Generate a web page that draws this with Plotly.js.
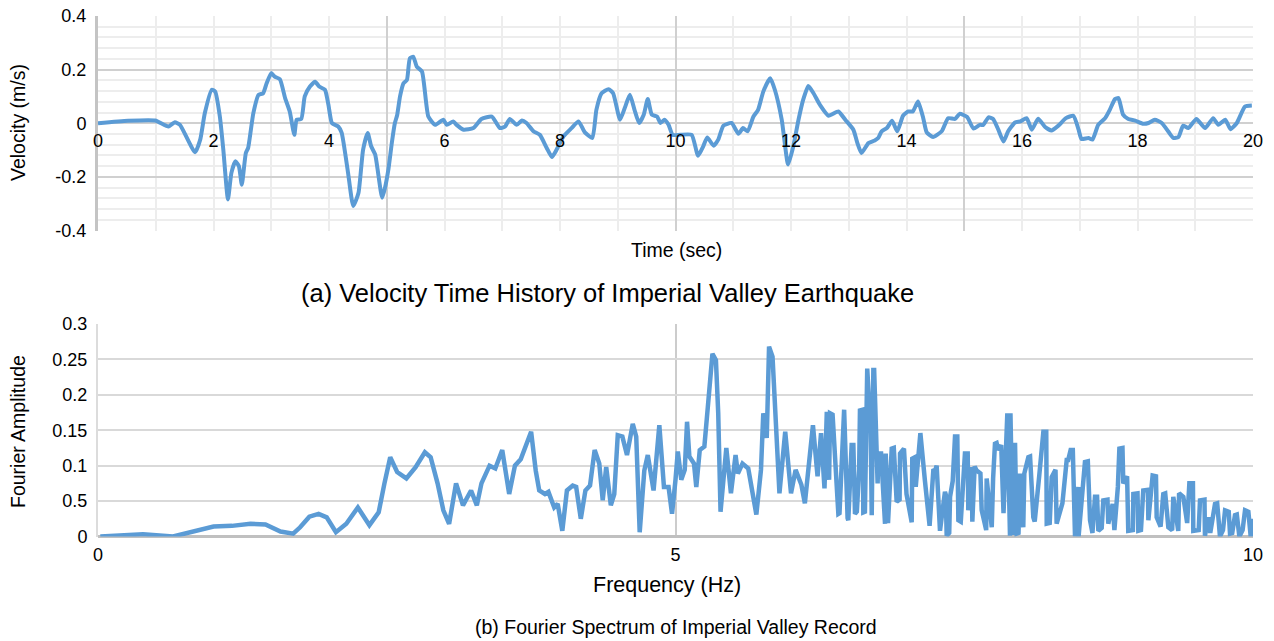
<!DOCTYPE html>
<html>
<head>
<meta charset="utf-8">
<script src="https://cdn.plot.ly/plotly-3.0.1.min.js"></script>
<style>
  html, body { margin: 0; padding: 0; background: #ffffff; }
  #chart { width: 1274px; height: 641px; }
</style>
</head>
<body>
<div id="chart"></div>
<script>
// ---- (a) Velocity time history ----
const timeSec = [0, 0.52, 0.99, 1.22, 1.33, 1.42, 1.68, 1.77, 1.85, 1.97, 2.03, 2.11, 2.17, 2.25, 2.31, 2.38, 2.44, 2.49, 2.56, 2.60,
  2.69, 2.78, 2.86, 2.92, 3.00, 3.06, 3.15, 3.24, 3.32, 3.40, 3.44, 3.52, 3.58, 3.67, 3.76, 3.83, 3.93, 3.99, 4.05, 4.16,
  4.22, 4.33, 4.42, 4.51, 4.59, 4.67, 4.73, 4.80, 4.92, 4.97, 5.03, 5.09, 5.14, 5.18, 5.23, 5.29, 5.35, 5.40, 5.46, 5.52,
  5.61, 5.72, 5.84, 5.98, 6.04, 6.15, 6.21, 6.33, 6.50, 6.64, 6.82, 6.96, 7.05, 7.13, 7.25, 7.34, 7.42, 7.54, 7.65, 7.77,
  7.86, 7.94, 8.06, 8.20, 8.32, 8.43, 8.56, 8.63, 8.72, 8.84, 8.92, 9.04, 9.13, 9.21, 9.29, 9.37, 9.45, 9.52, 9.59, 9.68,
  9.74, 9.81, 9.88, 9.95, 10.08, 10.28, 10.39, 10.48, 10.55, 10.66, 10.74, 10.83, 10.97, 11.09, 11.17, 11.25, 11.35, 11.43, 11.52, 11.64,
  11.72, 11.84, 11.95, 12.04, 12.13, 12.21, 12.30, 12.39, 12.50, 12.65, 12.82, 12.94, 13.08, 13.15, 13.22, 13.34, 13.45, 13.51, 13.57, 13.66,
  13.75, 13.84, 13.94, 14.03, 14.11, 14.20, 14.29, 14.35, 14.46, 14.61, 14.72, 14.84, 14.92, 15.05, 15.16, 15.27, 15.33, 15.42, 15.50, 15.59,
  15.68, 15.76, 15.88, 15.97, 16.08, 16.17, 16.28, 16.40, 16.51, 16.63, 16.76, 16.89, 16.98, 17.03, 17.15, 17.22, 17.32, 17.44, 17.52, 17.61,
  17.67, 17.75, 17.84, 17.96, 18.10, 18.19, 18.30, 18.42, 18.53, 18.62, 18.71, 18.79, 18.88, 19.02, 19.17, 19.31, 19.40, 19.52, 19.61, 19.72,
  19.86, 19.98];
const velocity = [0, 0.009, 0.010, -0.012, 0.004, -0.006, -0.108, -0.061, 0.038, 0.125, 0.118, 0.025, -0.099, -0.284, -0.185, -0.142, -0.160, -0.229, -0.111, -0.092,
  0.038, 0.106, 0.112, 0.149, 0.187, 0.174, 0.164, 0.094, 0.044, -0.043, 0.013, 0.016, 0.100, 0.137, 0.155, 0.137, 0.125, 0.069, 0.001, -0.012,
  -0.036, -0.185, -0.309, -0.260, -0.099, -0.036, -0.086, -0.117, -0.278, -0.240, -0.170, -0.070, 0.000, 0.030, 0.100, 0.149, 0.162, 0.242, 0.248, 0.211,
  0.193, 0.025, -0.006, 0.013, -0.006, 0.007, -0.006, -0.024, -0.018, 0.016, 0.025, -0.018, -0.012, 0.016, -0.006, 0.010, 0.001, -0.030, -0.043, -0.092,
  -0.126, -0.099, -0.049, -0.018, 0.007, -0.034, -0.055, 0.050, 0.112, 0.127, 0.112, 0.013, 0.062, 0.106, 0.050, 0.001, 0.032, 0.090, 0.032, 0.025,
  0.001, 0.013, -0.006, -0.043, -0.043, -0.043, -0.121, -0.086, -0.053, -0.084, -0.061, -0.009, 0.001, -0.039, -0.018, -0.030, 0.025, 0.050, 0.118, 0.168,
  0.125, 0.013, -0.154, -0.086, 0.013, 0.087, 0.139, 0.112, 0.069, 0.028, 0.044, 0.013, -0.024, -0.074, -0.111, -0.074, -0.064, -0.055, -0.030, -0.018,
  0.009, -0.030, 0.028, 0.044, 0.044, 0.081, 0.019, -0.034, -0.051, -0.030, 0.019, 0.016, 0.035, 0.023, -0.020, -0.006, -0.006, 0.022, 0.016, -0.024,
  -0.068, -0.030, 0.003, 0.007, 0.019, -0.024, 0.017, -0.014, -0.027, -0.009, 0.019, 0.028, -0.024, -0.059, -0.055, -0.061, -0.006, 0.019, 0.050, 0.090,
  0.094, 0.032, 0.016, 0.010, -0.002, 0.001, 0.013, 0.001, -0.030, -0.055, -0.051, -0.009, -0.018, 0.016, -0.018, 0.019, -0.006, 0.013, -0.022, 0.001,
  0.062, 0.066];
const timeTicks = [0, 2, 4, 6, 8, 10, 12, 14, 16, 18, 20];
const velTickVals = [-0.4, -0.2, 0, 0.2, 0.4];
const velTickText = ["-0.4", "-0.2", "0", "0.2", "0.4"];

// ---- (b) Fourier spectrum ----
const freqHz = [0.02, 0.39, 0.65, 0.81, 1.00, 1.16, 1.32, 1.45, 1.58, 1.69, 1.75, 1.83, 1.91, 1.98, 2.06, 2.15, 2.25, 2.35, 2.43, 2.48,
  2.53, 2.59, 2.67, 2.75, 2.83, 2.88, 2.94, 2.99, 3.04, 3.10, 3.16, 3.23, 3.28, 3.32, 3.39, 3.44, 3.50, 3.56, 3.61, 3.66,
  3.71, 3.75, 3.79, 3.82, 3.87, 3.90, 3.95, 3.98, 4.02, 4.06, 4.11, 4.14, 4.18, 4.22, 4.26, 4.30, 4.34, 4.37, 4.40, 4.44,
  4.47, 4.50, 4.54, 4.58, 4.63, 4.66, 4.69, 4.73, 4.76, 4.78, 4.81, 4.86, 4.90, 4.94, 4.97, 5.00, 5.02, 5.05, 5.08, 5.10,
  5.12, 5.16, 5.18, 5.21, 5.25, 5.28, 5.32, 5.35, 5.37, 5.39, 5.44, 5.48, 5.52, 5.54, 5.58, 5.63, 5.70, 5.74, 5.76, 5.79,
  5.81, 5.84, 5.87, 5.90, 5.95, 6.00, 6.04, 6.09, 6.12, 6.19, 6.23, 6.26, 6.29, 6.31, 6.33,
  6.338, 6.36, 6.39, 6.41, 6.42, 6.453, 6.46, 6.49, 6.496, 6.525, 6.54, 6.554, 6.57, 6.59, 6.597, 6.62, 6.626, 6.64, 6.66, 6.69,
  6.699, 6.713, 6.72, 6.75, 6.756, 6.78, 6.814, 6.82, 6.84, 6.872, 6.89, 6.915, 6.94, 6.944, 6.97, 6.978, 7.00, 7.045, 7.05, 7.074,
  7.08, 7.111, 7.12, 7.16, 7.20, 7.232, 7.25, 7.261, 7.29, 7.333, 7.34, 7.348, 7.37, 7.377, 7.40, 7.42, 7.44, 7.449, 7.47, 7.506,
  7.53, 7.535, 7.564, 7.57, 7.59, 7.608, 7.64, 7.651, 7.69, 7.694, 7.738, 7.75, 7.766, 7.78, 7.795, 7.82, 7.838, 7.84, 7.873, 7.896,
  7.90, 7.92, 7.925, 7.94, 7.954, 7.97, 7.983, 8.011, 8.02, 8.055, 8.07, 8.098, 8.11, 8.141, 8.15, 8.185, 8.21, 8.214, 8.24, 8.257,
  8.29, 8.30, 8.344, 8.35, 8.387, 8.40, 8.421, 8.44, 8.459, 8.488, 8.49, 8.53, 8.545, 8.57, 8.589, 8.61, 8.632, 8.65, 8.661, 8.69,
  8.704, 8.74, 8.747, 8.785, 8.80, 8.83, 8.843, 8.87, 8.877, 8.91, 8.92, 8.96, 8.964, 9.00, 9.007, 9.03, 9.05, 9.09, 9.094, 9.131,
  9.16, 9.166, 9.20, 9.223, 9.24, 9.267, 9.30, 9.31, 9.353, 9.36, 9.397, 9.43, 9.449, 9.48, 9.483, 9.53, 9.541, 9.58, 9.584, 9.613,
  9.63, 9.671, 9.69, 9.714, 9.74, 9.758, 9.79, 9.801, 9.82, 9.844, 9.86, 9.882, 9.91, 9.931, 9.96, 9.98, 10.0];
const amplitude = [0.000, 0.003, 0.000, 0.006, 0.014, 0.015, 0.018, 0.017, 0.007, 0.004, 0.013, 0.028, 0.032, 0.027, 0.006, 0.018, 0.041, 0.016, 0.034, 0.075,
  0.112, 0.091, 0.082, 0.098, 0.119, 0.112, 0.075, 0.037, 0.018, 0.075, 0.044, 0.065, 0.044, 0.075, 0.100, 0.096, 0.122, 0.060, 0.100, 0.109,
  0.131, 0.148, 0.093, 0.065, 0.060, 0.063, 0.041, 0.046, 0.008, 0.065, 0.072, 0.070, 0.025, 0.065, 0.072, 0.122, 0.103, 0.051, 0.098, 0.044,
  0.060, 0.143, 0.141, 0.115, 0.159, 0.141, 0.006, 0.093, 0.115, 0.093, 0.065, 0.157, 0.070, 0.070, 0.032, 0.080, 0.120, 0.080, 0.094, 0.162,
  0.113, 0.103, 0.070, 0.122, 0.127, 0.183, 0.258, 0.249, 0.174, 0.035, 0.125, 0.061, 0.115, 0.089, 0.103, 0.096, 0.031, 0.094, 0.174, 0.139,
  0.268, 0.254, 0.150, 0.061, 0.148, 0.061, 0.094, 0.073, 0.047, 0.157, 0.085, 0.146, 0.068, 0.176, 0.080,
  0.174, 0.172, 0.070, 0.032, 0.033, 0.178, 0.179, 0.026, 0.023, 0.129, 0.129, 0.032, 0.035, 0.094, 0.178, 0.179, 0.034, 0.035, 0.237, 0.150,
  0.030, 0.235, 0.235, 0.075, 0.117, 0.117, 0.018, 0.117, 0.019, 0.124, 0.125, 0.049, 0.052, 0.117, 0.122, 0.124, 0.060, 0.020, 0.110, 0.112,
  0.070, 0.145, 0.146, 0.078, 0.015, 0.093, 0.094, 0.100, 0.008, 0.063, 0.059, 0.001, 0.005, 0.056, 0.078, 0.141, 0.141, 0.023, 0.021, 0.117,
  0.117, 0.037, 0.098, 0.021, 0.099, 0.093, 0.089, 0.037, 0.009, 0.082, 0.013, 0.082, 0.131, 0.132, 0.122, 0.129, 0.046, 0.033, 0.174, 0.001,
  0.174, 0.002, 0.129, 0.129, 0.004, 0.005, 0.089, 0.013, 0.089, 0.112, 0.113, 0.027, 0.021, 0.086, 0.087, 0.148, 0.148, 0.018, 0.019, 0.084,
  0.094, 0.018, 0.041, 0.047, 0.108, 0.108, 0.122, 0.122, 0.000, 0.070, 0.000, 0.066, 0.105, 0.106, 0.023, 0.005, 0.056, 0.056, 0.008, 0.012,
  0.051, 0.052, 0.018, 0.046, 0.009, 0.070, 0.124, 0.125, 0.075, 0.085, 0.008, 0.009, 0.060, 0.061, 0.008, 0.009, 0.065, 0.066, 0.023, 0.086,
  0.085, 0.027, 0.014, 0.060, 0.061, 0.013, 0.009, 0.056, 0.008, 0.061, 0.056, 0.019, 0.075, 0.075, 0.008, 0.009, 0.051, 0.052, 0.001, 0.027,
  0.005, 0.046, 0.047, 0.000, 0.009, 0.037, 0.035, 0.004, 0.005, 0.030, 0.031, 0.000, 0.009, 0.037, 0.035, 0.000, 0.025];
const freqTicks = [0, 5, 10];
const ampTickVals = [0, 0.05, 0.1, 0.15, 0.2, 0.25, 0.3];
const ampTickText = ["0", "0.5", "0.1", "0.15", "0.2", "0.25", "0.3"];

const W = 1274, H = 641;
const px = v => v / W;
const py = v => 1 - v / H;
const FONT = "Liberation Sans, Arial, sans-serif";
const TICK = 18;
const TITLE = 19.5;
const LINE = "#5b9bd5";

const traces = [
  { x: [], y: [], xaxis: "x", yaxis: "y", type: "scatter", mode: "lines", showlegend: false, hoverinfo: "skip" },
  { x: timeSec, y: velocity, xaxis: "x3", yaxis: "y", type: "scatter", mode: "lines",
    line: { color: LINE, width: 4, shape: "spline", smoothing: 0.5 }, showlegend: false },
  { x: freqHz, y: amplitude, xaxis: "x2", yaxis: "y2", type: "scatter", mode: "lines",
    line: { color: LINE, width: 4.5 }, showlegend: false }
];

const xDom = [px(98), px(1253)];

const layout = {
  width: W, height: H,
  margin: { l: 0, r: 0, t: 0, b: 0 },
  paper_bgcolor: "#ffffff", plot_bgcolor: "#ffffff",
  font: { family: FONT, size: TICK, color: "#000000" },
  showlegend: false,
  xaxis: {
    domain: xDom, anchor: "y", range: [0, 20], tick0: 0, dtick: 5,
    showticklabels: false, ticks: "", showline: false, zeroline: false,
    showgrid: true, gridcolor: "#d0d0d0", gridwidth: 2,
    minor: { tick0: 0, dtick: 1, showgrid: true, gridcolor: "#ededed", gridwidth: 2 }
  },
  xaxis3: {
    overlaying: "x", anchor: "free", position: py(123.3), range: [0, 20],
    tickmode: "array", tickvals: timeTicks, ticktext: timeTicks.map(String),
    showgrid: false, showline: false, zeroline: false, ticks: "", ticklabelstandoff: 5,
    tickfont: { family: FONT, size: TICK, color: "#000000" }
  },
  yaxis: {
    domain: [py(230.5), py(16)], anchor: "x", range: [-0.4, 0.4],
    tickmode: "array", tickvals: velTickVals, ticktext: velTickText,
    showgrid: true, gridcolor: "#d0d0d0", gridwidth: 2, zeroline: false,
    showline: true, linecolor: "#c4c4c4", linewidth: 3, ticks: "", ticklabelstandoff: 5,
    minor: { tick0: -0.4, dtick: 0.04, showgrid: true, gridcolor: "#ededed", gridwidth: 2 },
    tickfont: { family: FONT, size: TICK, color: "#000000" }
  },
  xaxis2: {
    domain: xDom, anchor: "y2", range: [0, 10],
    tickmode: "array", tickvals: freqTicks, ticktext: freqTicks.map(String),
    showgrid: true, gridcolor: "#cccccc", gridwidth: 2, showline: false, zeroline: false,
    ticks: "", ticklabelstandoff: 5,
    tickfont: { family: FONT, size: TICK, color: "#000000" }
  },
  yaxis2: {
    domain: [py(536.5), py(324)], anchor: "x2", range: [0, 0.3],
    tickmode: "array", tickvals: ampTickVals, ticktext: ampTickText,
    showgrid: true, gridcolor: "#d9d9d9", gridwidth: 2,
    zeroline: true, zerolinecolor: "#c0c0c0", zerolinewidth: 2.5,
    showline: true, linecolor: "#dcdcdc", linewidth: 2, ticks: "", ticklabelstandoff: 5,
    tickfont: { family: FONT, size: TICK, color: "#000000" }
  },
  annotations: [
    { text: "Time (sec)", x: px(676), y: py(250), xref: "paper", yref: "paper", showarrow: false,
      xanchor: "center", yanchor: "middle", font: { family: FONT, size: TITLE, color: "#000000" } },
    { text: "(a) Velocity Time History of Imperial Valley Earthquake", x: px(607), y: py(293), xref: "paper", yref: "paper",
      showarrow: false, xanchor: "center", yanchor: "middle", font: { family: FONT, size: 25.5, color: "#000000" } },
    { text: "Velocity (m/s)", x: px(18), y: py(123), xref: "paper", yref: "paper", showarrow: false, textangle: -90,
      xanchor: "center", yanchor: "middle", font: { family: FONT, size: TITLE, color: "#000000" } },
    { text: "Frequency (Hz)", x: px(667), y: py(585), xref: "paper", yref: "paper", showarrow: false,
      xanchor: "center", yanchor: "middle", font: { family: FONT, size: 21.5, color: "#000000" } },
    { text: "(b) Fourier Spectrum of Imperial Valley Record", x: px(676), y: py(627), xref: "paper", yref: "paper",
      showarrow: false, xanchor: "center", yanchor: "middle", font: { family: FONT, size: TITLE, color: "#000000" } },
    { text: "Fourier Amplitude", x: px(18), y: py(432), xref: "paper", yref: "paper", showarrow: false, textangle: -90,
      xanchor: "center", yanchor: "middle", font: { family: FONT, size: TITLE, color: "#000000" } }
  ]
};

Plotly.newPlot("chart", traces, layout, { displayModeBar: false, staticPlot: true });
</script>
</body>
</html>
